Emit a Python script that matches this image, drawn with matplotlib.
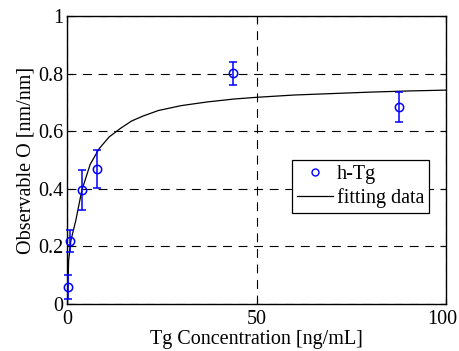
import matplotlib
matplotlib.use("Agg")
import matplotlib.pyplot as plt
from matplotlib.lines import Line2D
from matplotlib.transforms import ScaledTranslation

# measured data
conc = [0.1, 0.8, 3.9, 7.9, 43.7, 87.7]
obs = [0.058, 0.218, 0.396, 0.468, 0.801, 0.685]
err = [0.042, 0.038, 0.07, 0.066, 0.041, 0.053]

# fitting curve
fit_x = [0, 0.3, 0.9, 2.2, 3.8, 6, 8.4, 11, 14, 17, 20, 24, 30, 37, 44, 50, 60, 70, 80, 90, 100]
fit_y = [0.0, 0.15, 0.22, 0.29, 0.395, 0.485, 0.54, 0.58, 0.61, 0.636, 0.653, 0.672, 0.689, 0.702, 0.712, 0.718, 0.726, 0.731, 0.736, 0.740, 0.743]

xticks = [0, 50, 100]
yticks = [0, 0.2, 0.4, 0.6, 0.8, 1]
ytick_labels = ["0", "0.2", "0.4", "0.6", "0.8", "1"]

FS = 14.5
plt.rcParams['font.family'] = ['Liberation Serif', 'DejaVu Serif']
fig = plt.figure(figsize=(4.59, 3.51), dpi=100)
ax = fig.add_axes([0.147, 0.134, 0.824, 0.820])

ax.plot(fit_x, fit_y, color='black', lw=0.9, zorder=2)
eb = ax.errorbar(conc, obs, yerr=err, fmt='o', mfc='none', mec='blue', ecolor='blue',
                 ms=6, mew=1.1, elinewidth=1.1, capsize=3, capthick=1.1, zorder=3)
for artist in eb.get_children():
    artist.set_clip_on(False)

ax.set_xlim(0, 100)
ax.set_ylim(0, 1)
ax.set_xticks(xticks)
ax.set_xticklabels([str(t) for t in xticks])
ax.set_yticks(yticks)
ax.set_yticklabels(ytick_labels)
ax.tick_params(direction='in', top=True, right=True, labelsize=FS, length=4, width=0.8)
ax.tick_params(axis='x', pad=4)
ax.tick_params(axis='y', pad=3)
ax.grid(True, color='black', linestyle=(0, (8, 6)), lw=0.8)
for s in ax.spines.values():
    s.set_linewidth(1.0)

# keep the last x tick label inside the figure
last = ax.get_xticklabels()[-1]
last.set_transform(last.get_transform() + ScaledTranslation(-3 / 100, 0, fig.dpi_scale_trans))

ax.set_xlabel('Tg Concentration [ng/mL]', fontsize=FS, labelpad=1)
ax.set_ylabel('Observable O [nm/nm]', fontsize=FS, labelpad=2)

handles = [Line2D([], [], marker='o', ls='none', mfc='none', mec='blue', ms=5, mew=1),
           Line2D([], [], color='black', lw=0.9)]
leg = ax.legend(handles, ['h-Tg', 'fitting data'], loc='upper right',
                bbox_to_anchor=(0.957, 0.5), fontsize=FS, frameon=True, fancybox=False,
                framealpha=1, edgecolor='black', borderpad=0.25, handlelength=1.8,
                handletextpad=0.2, labelspacing=0.2, borderaxespad=0)
leg.get_frame().set_linewidth(0.9)

fig.savefig('out.png', dpi=100)
